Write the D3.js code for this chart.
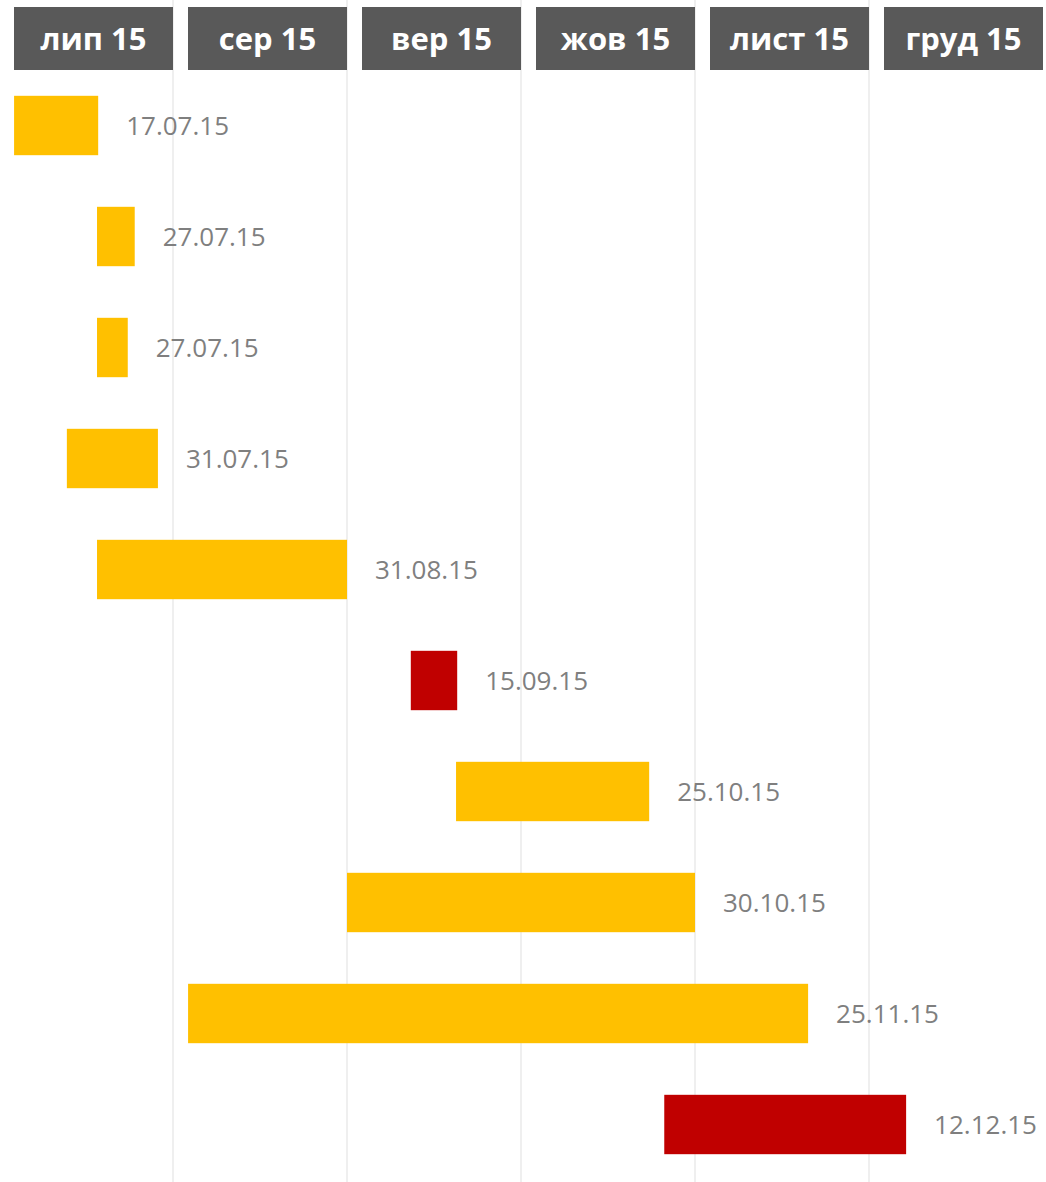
<!DOCTYPE html>
<html>
<head>
<meta charset="utf-8">
<script src="https://cdn.jsdelivr.net/npm/d3@7"></script>
<style>
  body { margin: 0; background: #fff; }
  svg { display: block; }
</style>
</head>
<body>
<svg id="gantt"></svg>
<script>
// months on the top row
let months = ["лип 15", "сер 15", "вер 15", "жов 15", "лист 15", "груд 15"]
let daysPerMonth = 30

// tasks: start / end in days from 1 July, label, status
let labels = ["17.07.15", "27.07.15", "27.07.15", "31.07.15", "31.08.15", "15.09.15", "25.10.15", "30.10.15", "25.11.15", "12.12.15"]
let starts = [2.6, 16.9, 16.9, 11.7, 16.9, 71, 78.8, 60, 32.6, 114.7]
let ends = [17.1, 23.4, 22.2, 27.4, 60, 79, 112.1, 120, 139.5, 156.4]
let status = ["ok", "ok", "ok", "ok", "ok", "late", "ok", "ok", "ok", "late"]

let width = 1046
let height = 1182

let tasks = labels.map((l, i) => ({ id: i, label: l, start: starts[i], end: ends[i], status: status[i] }))

let svg = d3.select("#gantt")
  .attr("width", width)
  .attr("height", height)

let x = d3.scaleLinear()
  .domain([0, months.length * daysPerMonth])
  .range([-1, 1043])

let y = d3.scaleBand()
  .domain(tasks.map(d => d.id))
  .range([70, 1180])
  .paddingInner(0.465)
  .paddingOuter(0.2325)

let color = d3.scaleOrdinal()
  .domain(["ok", "late"])
  .range(["#FFC000", "#C00000"])

// gridlines at month boundaries
svg.append("g")
  .selectAll("line")
  .data(d3.range(1, months.length))
  .join("line")
  .attr("x1", d => x(d * daysPerMonth))
  .attr("x2", d => x(d * daysPerMonth))
  .attr("y1", 0)
  .attr("y2", height)
  .style("stroke", "#efefef")
  .style("stroke-width", 2)

// month header boxes
let header = svg.append("g")
  .selectAll("g")
  .data(months)
  .join("g")

header.append("rect")
  .attr("x", (d, i) => x(i * daysPerMonth) + 15)
  .attr("y", 7)
  .attr("width", (d, i) => x((i + 1) * daysPerMonth) - x(i * daysPerMonth) - 15)
  .attr("height", 63)
  .attr("fill", "#595959")

header.append("text")
  .attr("x", (d, i) => (x(i * daysPerMonth) + 15 + x((i + 1) * daysPerMonth)) / 2)
  .attr("y", 39)
  .attr("dy", "0.35em")
  .attr("text-anchor", "middle")
  .style("font-family", "'Open Sans', sans-serif")
  .style("font-weight", "bold")
  .style("font-size", "31px")
  .style("fill", "#fff")
  .text(d => d)

// bars
svg.append("g")
  .selectAll("rect")
  .data(tasks)
  .join("rect")
  .attr("x", d => x(d.start))
  .attr("y", d => y(d.id))
  .attr("width", d => x(d.end) - x(d.start))
  .attr("height", y.bandwidth())
  .attr("fill", d => color(d.status))

// date labels
svg.append("g")
  .selectAll("text")
  .data(tasks)
  .join("text")
  .attr("x", d => x(d.end) + 28)
  .attr("y", d => y(d.id) + y.bandwidth() / 2)
  .attr("dy", "0.35em")
  .style("font-family", "'Open Sans', sans-serif")
  .style("font-size", "26px")
  .style("fill", "#7f7f7f")
  .text(d => d.label)
</script>
</body>
</html>
